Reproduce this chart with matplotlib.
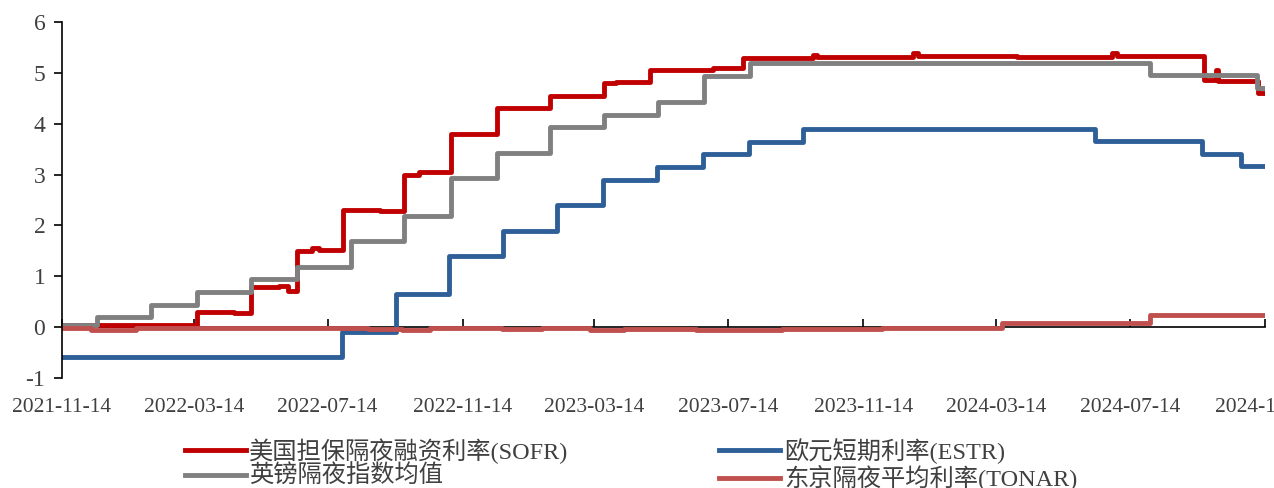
import matplotlib.pyplot as plt
import pandas as pd

plt.rcParams["font.family"] = ["Liberation Serif", "Noto Sans CJK SC"]
plt.rcParams["axes.unicode_minus"] = False

END = "2024-11-14"

sofr_dates = ["2021-11-14", "2022-03-17", "2022-04-20", "2022-05-05", "2022-05-31",
              "2022-06-08", "2022-06-16", "2022-06-30", "2022-07-06", "2022-07-28",
              "2022-08-31", "2022-09-22", "2022-10-05", "2022-11-03", "2022-12-15",
              "2023-01-03", "2023-02-02", "2023-03-23", "2023-04-03", "2023-05-04",
              "2023-06-30", "2023-07-27", "2023-09-29", "2023-10-03", "2023-12-29",
              "2024-01-03", "2024-03-28", "2024-04-02", "2024-06-28", "2024-07-02",
              "2024-09-19", "2024-09-30", "2024-10-02", "2024-11-08"]
sofr_vals = [0.05, 0.29, 0.27, 0.78, 0.80, 0.72, 1.50, 1.55, 1.52, 2.30,
             2.28, 3.00, 3.05, 3.80, 4.30, 4.31, 4.55, 4.80, 4.83, 5.05,
             5.09, 5.30, 5.35, 5.31, 5.40, 5.33, 5.34, 5.32, 5.40, 5.33,
             4.85, 5.05, 4.84, 4.60]

estr_dates = ["2021-11-14", "2022-07-27", "2022-09-14", "2022-11-02", "2022-12-21",
              "2023-02-08", "2023-03-22", "2023-05-10", "2023-06-21", "2023-08-02",
              "2023-09-20", "2024-06-12", "2024-09-18", "2024-10-23"]
estr_vals = [-0.58, -0.09, 0.66, 1.40, 1.90, 2.40, 2.90, 3.15, 3.40, 3.65,
             3.90, 3.66, 3.41, 3.16]

sonia_dates = ["2021-11-14", "2021-12-16", "2022-02-03", "2022-03-17", "2022-05-05",
               "2022-06-16", "2022-08-04", "2022-09-22", "2022-11-03", "2022-12-15",
               "2023-02-02", "2023-03-23", "2023-05-11", "2023-06-22", "2023-08-03",
               "2024-08-01", "2024-11-07"]
sonia_vals = [0.05, 0.19, 0.44, 0.69, 0.94, 1.19, 1.69, 2.19, 2.93, 3.43,
              3.93, 4.18, 4.43, 4.93, 5.19, 4.95, 4.70]

tonar_dates = ["2021-11-14", "2021-12-10", "2022-01-20", "2022-04-01", "2022-06-15",
               "2022-08-20", "2022-09-20", "2022-10-15", "2022-12-20", "2023-01-25",
               "2023-03-10", "2023-04-10", "2023-06-15", "2023-09-01", "2023-12-01",
               "2024-03-19", "2024-08-01"]
tonar_vals = [-0.02, -0.05, -0.01, -0.02, -0.01, -0.04, -0.06, -0.02, -0.03, -0.01,
              -0.06, -0.03, -0.05, -0.03, -0.02, 0.08, 0.23]

tick_dates = ["2021-11-14", "2022-03-14", "2022-07-14", "2022-11-14", "2023-03-14",
              "2023-07-14", "2023-11-14", "2024-03-14", "2024-07-14", "2024-11-14"]

series = [
    ("美国担保隔夜融资利率(SOFR)", sofr_dates, sofr_vals, "#C00000"),
    ("英镑隔夜指数均值", sonia_dates, sonia_vals, "#808080"),
    ("欧元短期利率(ESTR)", estr_dates, estr_vals, "#2F5F98"),
    ("东京隔夜平均利率(TONAR)", tonar_dates, tonar_vals, "#C0504D"),
]

fig = plt.figure(figsize=(12.74, 4.88), dpi=100)
ax = fig.add_axes([62 / 1274, 1 - 378 / 488, (1265 - 62) / 1274, (378 - 22) / 488])

handles = {}
for label, dates, vals, color in series:
    x = pd.to_datetime(dates + [END])
    y = vals + [vals[-1]]
    (ln,) = ax.step(x, y, where="post", color=color, linewidth=3.5, label=label)
    handles[label] = ln

ax.set_ylim(-1, 6)
ax.set_yticks(range(-1, 7))
ax.set_xlim(pd.Timestamp("2021-11-14"), pd.Timestamp(END))
ax.set_xticks(pd.to_datetime(tick_dates))
ax.set_xticklabels(tick_dates)

for s in ["top", "right"]:
    ax.spines[s].set_visible(False)
ax.spines["bottom"].set_position(("data", 0))
ax.spines["bottom"].set_linewidth(1.2)
ax.spines["left"].set_linewidth(1.2)
ax.spines["bottom"].set_zorder(0)
ax.tick_params(axis="x", direction="in", length=6, width=1.2, pad=51,
               labelsize=15.5, labelcolor="#404040")
ax.tick_params(axis="y", direction="out", length=6, width=1.2, pad=6,
               labelsize=17, labelcolor="#404040")

fig.legend(handles=list(handles.values()), labels=list(handles.keys()),
           loc="upper left", bbox_to_anchor=(185 / 1274, 1 - 438 / 488), ncol=2,
           frameon=False, fontsize=17.5, handlelength=2.5, handletextpad=0.15,
           columnspacing=6.2, labelspacing=0.05, borderpad=0, borderaxespad=0,
           labelcolor="#404040")

fig.savefig("out.png", dpi=100)
